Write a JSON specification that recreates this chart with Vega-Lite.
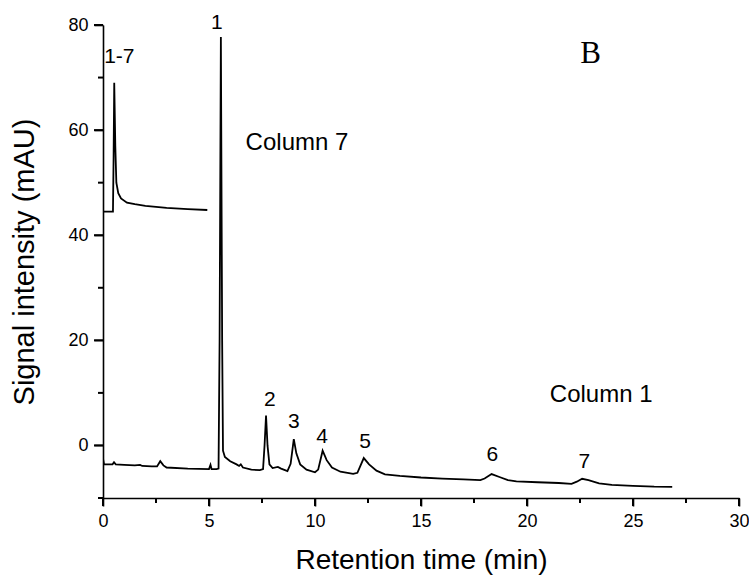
{
  "$schema": "https://vega.github.io/schema/vega-lite/v6.json",
  "width": 636,
  "height": 473,
  "autosize": {"type": "none"},
  "padding": {"left": 103, "top": 25, "right": 10, "bottom": 77},
  "background": "white",
  "config": {
    "view": {"stroke": null},
    "axis": {"grid": false, "domainColor": "black", "labelColor": "black", "titleColor": "black", "labelFont": "Liberation Sans", "titleFont": "Liberation Sans", "titleFontWeight": "normal", "domainWidth": 1.6}
  },
  "resolve": {"axis": {"x": "independent", "y": "independent"}},
  "datasets": {
    "traces": [
      {"trace": "Column 1", "t": 0, "v": -2.5},
      {"trace": "Column 1", "t": 0.05, "v": -3.6},
      {"trace": "Column 1", "t": 0.3, "v": -3.6},
      {"trace": "Column 1", "t": 0.45, "v": -3.6},
      {"trace": "Column 1", "t": 0.52, "v": -3.2},
      {"trace": "Column 1", "t": 0.6, "v": -3.6},
      {"trace": "Column 1", "t": 1.0, "v": -3.7},
      {"trace": "Column 1", "t": 1.5, "v": -3.8},
      {"trace": "Column 1", "t": 1.75, "v": -3.7},
      {"trace": "Column 1", "t": 1.85, "v": -3.9},
      {"trace": "Column 1", "t": 2.3, "v": -4.0},
      {"trace": "Column 1", "t": 2.55, "v": -4.0},
      {"trace": "Column 1", "t": 2.7, "v": -3.0},
      {"trace": "Column 1", "t": 2.85, "v": -3.8},
      {"trace": "Column 1", "t": 3.0, "v": -4.2},
      {"trace": "Column 1", "t": 4.0, "v": -4.4},
      {"trace": "Column 1", "t": 5.0, "v": -4.5},
      {"trace": "Column 1", "t": 5.07, "v": -3.7},
      {"trace": "Column 1", "t": 5.12, "v": -4.5},
      {"trace": "Column 1", "t": 5.35, "v": -4.5},
      {"trace": "Column 1", "t": 5.45, "v": -4.4},
      {"trace": "Column 1", "t": 5.5, "v": 20},
      {"trace": "Column 1", "t": 5.56, "v": 77.7},
      {"trace": "Column 1", "t": 5.62, "v": 20},
      {"trace": "Column 1", "t": 5.66, "v": -1.0},
      {"trace": "Column 1", "t": 5.75, "v": -2.2},
      {"trace": "Column 1", "t": 6.0, "v": -3.0},
      {"trace": "Column 1", "t": 6.3, "v": -3.6},
      {"trace": "Column 1", "t": 6.42, "v": -3.9},
      {"trace": "Column 1", "t": 6.5, "v": -3.6},
      {"trace": "Column 1", "t": 6.6, "v": -4.2},
      {"trace": "Column 1", "t": 7.0, "v": -4.6},
      {"trace": "Column 1", "t": 7.4, "v": -4.7},
      {"trace": "Column 1", "t": 7.55, "v": -4.5},
      {"trace": "Column 1", "t": 7.62, "v": 0},
      {"trace": "Column 1", "t": 7.69, "v": 5.7},
      {"trace": "Column 1", "t": 7.76, "v": 0},
      {"trace": "Column 1", "t": 7.85, "v": -3.6},
      {"trace": "Column 1", "t": 8.0, "v": -4.3},
      {"trace": "Column 1", "t": 8.25, "v": -4.1},
      {"trace": "Column 1", "t": 8.4, "v": -4.4},
      {"trace": "Column 1", "t": 8.7, "v": -4.9},
      {"trace": "Column 1", "t": 8.85, "v": -3.5},
      {"trace": "Column 1", "t": 9.0, "v": 1.2},
      {"trace": "Column 1", "t": 9.12, "v": -1.5},
      {"trace": "Column 1", "t": 9.3, "v": -3.6},
      {"trace": "Column 1", "t": 9.6, "v": -4.6},
      {"trace": "Column 1", "t": 10.0, "v": -5.1},
      {"trace": "Column 1", "t": 10.15, "v": -4.6},
      {"trace": "Column 1", "t": 10.36, "v": -1.0},
      {"trace": "Column 1", "t": 10.55, "v": -2.8},
      {"trace": "Column 1", "t": 10.8, "v": -4.2},
      {"trace": "Column 1", "t": 11.2, "v": -5.0},
      {"trace": "Column 1", "t": 11.8, "v": -5.4},
      {"trace": "Column 1", "t": 12.0, "v": -5.2},
      {"trace": "Column 1", "t": 12.3, "v": -2.4},
      {"trace": "Column 1", "t": 12.55, "v": -3.6},
      {"trace": "Column 1", "t": 12.9, "v": -4.8},
      {"trace": "Column 1", "t": 13.3, "v": -5.5},
      {"trace": "Column 1", "t": 14.0, "v": -5.8},
      {"trace": "Column 1", "t": 15.0, "v": -6.1},
      {"trace": "Column 1", "t": 16.0, "v": -6.3},
      {"trace": "Column 1", "t": 17.0, "v": -6.45},
      {"trace": "Column 1", "t": 17.8, "v": -6.6},
      {"trace": "Column 1", "t": 18.0, "v": -6.3},
      {"trace": "Column 1", "t": 18.33, "v": -5.45},
      {"trace": "Column 1", "t": 18.7, "v": -6.0},
      {"trace": "Column 1", "t": 19.1, "v": -6.6},
      {"trace": "Column 1", "t": 19.5, "v": -6.85},
      {"trace": "Column 1", "t": 20.5, "v": -7.0},
      {"trace": "Column 1", "t": 21.5, "v": -7.15},
      {"trace": "Column 1", "t": 22.1, "v": -7.3},
      {"trace": "Column 1", "t": 22.35, "v": -6.9},
      {"trace": "Column 1", "t": 22.6, "v": -6.35},
      {"trace": "Column 1", "t": 22.9, "v": -6.6},
      {"trace": "Column 1", "t": 23.4, "v": -7.2},
      {"trace": "Column 1", "t": 24.0, "v": -7.5},
      {"trace": "Column 1", "t": 25.0, "v": -7.7},
      {"trace": "Column 1", "t": 26.0, "v": -7.85},
      {"trace": "Column 1", "t": 26.85, "v": -7.9},
      {"trace": "Column 7", "t": 0.0, "v": 44.5},
      {"trace": "Column 7", "t": 0.47, "v": 44.5},
      {"trace": "Column 7", "t": 0.5, "v": 55},
      {"trace": "Column 7", "t": 0.53, "v": 69},
      {"trace": "Column 7", "t": 0.58, "v": 57},
      {"trace": "Column 7", "t": 0.63, "v": 50},
      {"trace": "Column 7", "t": 0.72, "v": 48},
      {"trace": "Column 7", "t": 0.85, "v": 47},
      {"trace": "Column 7", "t": 1.13, "v": 46.2},
      {"trace": "Column 7", "t": 1.5, "v": 45.9},
      {"trace": "Column 7", "t": 2.0, "v": 45.6},
      {"trace": "Column 7", "t": 3.0, "v": 45.2},
      {"trace": "Column 7", "t": 4.0, "v": 44.95},
      {"trace": "Column 7", "t": 4.92, "v": 44.8}
    ],
    "peaks": [
      {"label": "1", "t": 5.37, "v": 79.2},
      {"label": "1-7", "t": 0.77, "v": 72.8},
      {"label": "2", "t": 7.87, "v": 7.56},
      {"label": "3", "t": 9.0, "v": 3.3},
      {"label": "4", "t": 10.33, "v": 0.46},
      {"label": "5", "t": 12.36, "v": -0.5},
      {"label": "6", "t": 18.36, "v": -2.9},
      {"label": "7", "t": 22.7, "v": -4.3}
    ],
    "columns": [
      {"label": "Column 7", "t": 9.15, "v": 56.3},
      {"label": "Column 1", "t": 23.5, "v": 8.2}
    ],
    "panel": [
      {"label": "B", "t": 23.0, "v": 72.8}
    ],
    "xmajor": [{"t": 0}, {"t": 5}, {"t": 10}, {"t": 15}, {"t": 20}, {"t": 25}, {"t": 30}],
    "xminor": [{"t": 2.5}, {"t": 7.5}, {"t": 12.5}, {"t": 17.5}, {"t": 22.5}, {"t": 27.5}],
    "ymajor": [{"v": 0}, {"v": 20}, {"v": 40}, {"v": 60}, {"v": 80}],
    "yminor": [{"v": -10}, {"v": 10}, {"v": 30}, {"v": 50}, {"v": 70}]
  },
  "layer": [
    {
      "data": {"name": "traces"},
      "mark": {"type": "line", "color": "black", "strokeWidth": 1.8, "clip": true},
      "encoding": {
        "x": {
          "field": "t", "type": "quantitative",
          "scale": {"domain": [0, 30], "nice": false, "zero": false},
          "axis": {
            "orient": "bottom",
            "title": "Retention time (min)",
            "values": [0, 5, 10, 15, 20, 25, 30],
            "ticks": true, "tickSize": 8, "tickColor": "#000000", "tickWidth": 1.6,
            "labelFontSize": 18, "labelPadding": 6, "labelFlush": false,
            "titleFontSize": 28, "titlePadding": 16
          }
        },
        "y": {
          "field": "v", "type": "quantitative",
          "scale": {"domain": [-10, 80], "nice": false, "zero": false},
          "axis": {
            "orient": "left",
            "title": "Signal intensity (mAU)",
            "values": [0, 20, 40, 60, 80],
            "ticks": true, "tickSize": 9, "tickColor": "#000000", "tickWidth": 1.6,
            "labelFontSize": 18, "labelPadding": 6, "labelFlush": false,
            "titleFontSize": 29, "titlePadding": 28
          }
        },
        "detail": {"field": "trace", "type": "nominal"},
        "order": {"field": "t", "type": "quantitative"}
      }
    },
    {
      "data": {"name": "xmajor"},
      "mark": {"type": "tick", "orient": "vertical", "color": "black", "thickness": 2, "size": 8, "opacity": 1},
      "encoding": {
        "x": {"field": "t", "type": "quantitative", "axis": null},
        "y": {"datum": -10.76, "type": "quantitative", "axis": null}
      }
    },
    {
      "data": {"name": "xminor"},
      "mark": {"type": "tick", "orient": "vertical", "color": "black", "thickness": 2, "size": 5, "opacity": 1},
      "encoding": {
        "x": {"field": "t", "type": "quantitative", "axis": null},
        "y": {"datum": -10.48, "type": "quantitative", "axis": null}
      }
    },
    {
      "data": {"name": "ymajor"},
      "mark": {"type": "tick", "orient": "horizontal", "color": "black", "thickness": 2, "size": 9, "opacity": 1},
      "encoding": {
        "y": {"field": "v", "type": "quantitative", "axis": null},
        "x": {"datum": -0.212, "type": "quantitative", "axis": null}
      }
    },
    {
      "data": {"name": "yminor"},
      "mark": {"type": "tick", "orient": "horizontal", "color": "black", "thickness": 2, "size": 5, "opacity": 1},
      "encoding": {
        "y": {"field": "v", "type": "quantitative", "axis": null},
        "x": {"datum": -0.118, "type": "quantitative", "axis": null}
      }
    },
    {
      "data": {"name": "peaks"},
      "mark": {"type": "text", "font": "Liberation Sans", "fontSize": 21, "align": "center", "baseline": "alphabetic", "color": "black"},
      "encoding": {
        "x": {"field": "t", "type": "quantitative", "axis": null},
        "y": {"field": "v", "type": "quantitative", "axis": null},
        "text": {"field": "label"}
      }
    },
    {
      "data": {"name": "columns"},
      "mark": {"type": "text", "font": "Liberation Sans", "fontSize": 24, "align": "center", "baseline": "alphabetic", "color": "black"},
      "encoding": {
        "x": {"field": "t", "type": "quantitative", "axis": null},
        "y": {"field": "v", "type": "quantitative", "axis": null},
        "text": {"field": "label"}
      }
    },
    {
      "data": {"name": "panel"},
      "mark": {"type": "text", "font": "Liberation Serif", "fontSize": 31, "align": "center", "baseline": "alphabetic", "color": "black"},
      "encoding": {
        "x": {"field": "t", "type": "quantitative", "axis": null},
        "y": {"field": "v", "type": "quantitative", "axis": null},
        "text": {"field": "label"}
      }
    }
  ]
}
